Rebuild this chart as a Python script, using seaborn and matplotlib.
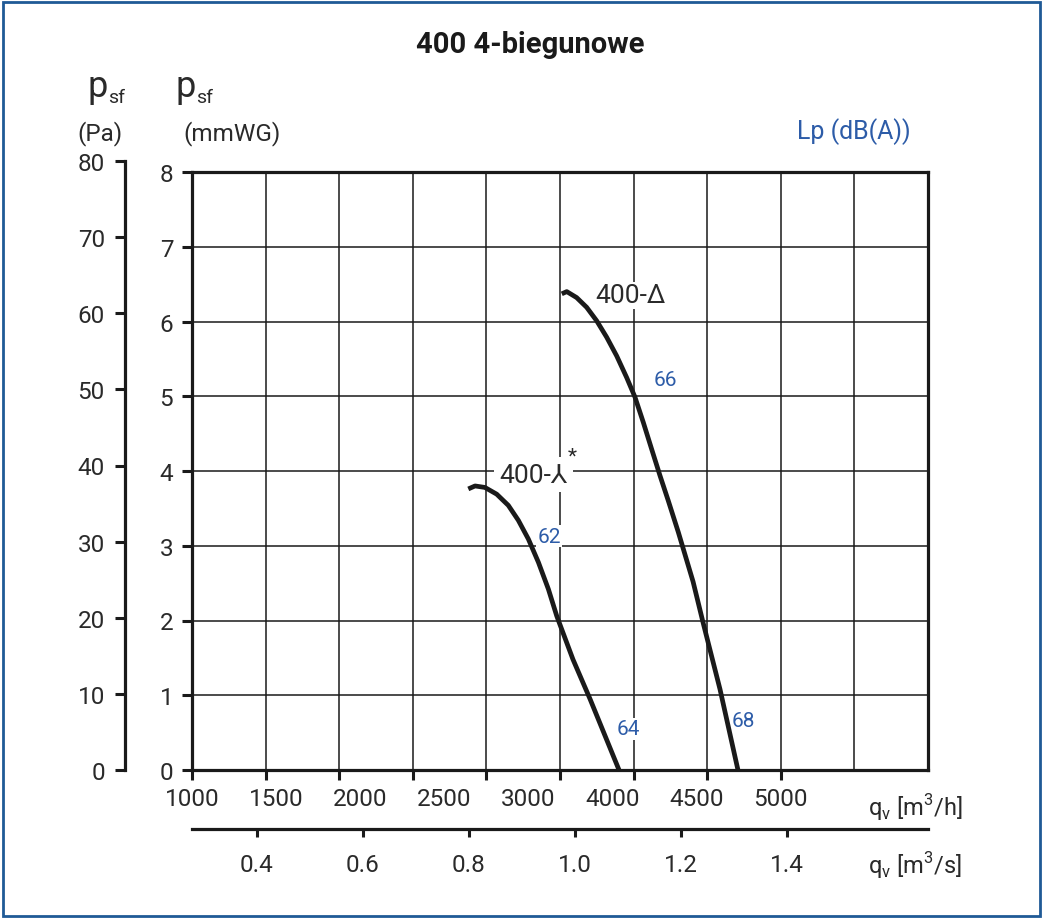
import numpy as np
import pandas as pd
import matplotlib
matplotlib.use('Agg')
import matplotlib.pyplot as plt
from matplotlib.patches import Rectangle
import seaborn as sns

# Curve data (q in m3/h, p in mmWG)
delta_q = [3512, 3546, 3613, 3681, 3749, 3817, 3885, 3953, 4009, 4066, 4123, 4179,
           4236, 4304, 4404, 4471, 4587, 4709]
delta_p = [6.37, 6.40, 6.32, 6.19, 6.01, 5.79, 5.54, 5.25, 4.99, 4.65, 4.29, 3.94,
           3.60, 3.18, 2.52, 1.98, 1.08, 0.0]
star_q = [2877, 2923, 2990, 3070, 3149, 3217, 3285, 3353, 3421, 3478, 3588, 3704, 3901]
star_p = [3.76, 3.80, 3.78, 3.69, 3.54, 3.34, 3.09, 2.78, 2.42, 2.06, 1.48, 0.95, 0.0]

# Lp (dB(A)) labels and where they sit
lp_labels = ['66', '62', '64', '68']
lp_q = [4213, 3425, 3962, 4743]
lp_p = [5.23, 3.13, 0.55, 0.66]

# tick labels
qh_labels = ['1000', '1500', '2000', '2500', '3000', '4000', '4500', '5000']
qs_ticks = [0.4, 0.6, 0.8, 1.0, 1.2, 1.4]
mm_ticks = [0, 1, 2, 3, 4, 5, 6, 7, 8]
pa_ticks = [0, 10, 20, 30, 40, 50, 60, 70, 80]

sns.set_style('white')
plt.rcParams['font.family'] = ['Roboto', 'DejaVu Sans']

W, H = 1045, 920
BLACK = '#1a1a1a'
BLUE = '#2d5ca8'
TXT = '#2a2a2a'


def fx(px):
    return px / W


def fy(py):
    return 1 - py / H


fig = plt.figure(figsize=(W / 100, H / 100), dpi=100)

# main chart
ax = fig.add_axes([fx(192), fy(771), fx(928) - fx(192), fy(173) - fy(771)])
ax.set_xlim(1000, 6000)
ax.set_ylim(0, 8)

df = pd.concat([
    pd.DataFrame({'q': delta_q, 'p': delta_p, 'curve': 'delta'}),
    pd.DataFrame({'q': star_q, 'p': star_p, 'curve': 'star'}),
])
for name, g in df.groupby('curve'):
    sns.lineplot(data=g, x='q', y='p', sort=False, estimator=None, ax=ax,
                 color=BLACK, lw=3.4, solid_capstyle='butt', zorder=4)
ax.set_xlabel('')
ax.set_ylabel('')

ax.xaxis.remove_overlapping_locs = False
ax.set_xticks(np.arange(1000, 5501, 500))
ax.set_xticklabels([])
ax.set_xticks(np.linspace(1000, 5000, len(qh_labels)), qh_labels, minor=True)
ax.set_yticks(mm_ticks)
ax.grid(True, which='major', color=BLACK, lw=1.1)
ax.set_axisbelow(True)
ax.tick_params(axis='x', which='major', length=7, width=2.2, color=BLACK, direction='out', bottom=True)
ax.tick_params(axis='x', which='minor', length=0, pad=12, labelsize=17.5, labelcolor=TXT)
ax.tick_params(axis='y', length=7.5, width=2.2, color=BLACK, direction='out', left=True,
               pad=6, labelsize=17.5, labelcolor=TXT)
ax.xaxis.get_major_ticks()[-1].tick1line.set_visible(False)
for s in ax.spines.values():
    s.set_visible(True)
    s.set_color(BLACK)
    s.set_linewidth(2.3)

# curve names
ax.text(3976, 6.35, '400-Δ', ha='center', va='center', fontsize=19, color=TXT,
        family=['Roboto', 'DejaVu Sans'],
        bbox=dict(facecolor='white', edgecolor='none', pad=1), zorder=3)
ax.text(3317, 3.95, '400-⅄', ha='center', va='center', fontsize=19, color=TXT,
        family=['Roboto', 'DejaVu Sans'],
        bbox=dict(facecolor='white', edgecolor='none', pad=4), zorder=3)
ax.text(3585, 4.2, '*', ha='center', va='center', fontsize=15, color=TXT,
        bbox=dict(facecolor='white', edgecolor='none', pad=2), zorder=3)

for lab, q, p in zip(lp_labels, lp_q, lp_p):
    ax.text(q, p, lab, ha='center', va='center', fontsize=15, color=BLUE,
            bbox=dict(facecolor='white', edgecolor='none', pad=1), zorder=3)

# Pa axis
ax_pa = fig.add_axes([fx(125), fy(771), 0.001, fy(162) - fy(771)])
ax_pa.set_ylim(0, 80)
ax_pa.set_yticks(pa_ticks)
ax_pa.set_xticks([])
for k in ['top', 'right', 'bottom']:
    ax_pa.spines[k].set_visible(False)
ax_pa.spines['left'].set_color(BLACK)
ax_pa.spines['left'].set_linewidth(2.3)
ax_pa.patch.set_visible(False)
ax_pa.tick_params(axis='y', length=7.5, width=2.2, color=BLACK, direction='out', left=True,
                  pad=7, labelsize=17.5, labelcolor=TXT)

# m3/s axis
ax_s = fig.add_axes([fx(192), fy(830), fx(928) - fx(192), 0.001])
ax_s.set_xlim(1000 / 3600, 6000 / 3600)
ax_s.set_xticks(qs_ticks, [f'{v:.1f}' for v in qs_ticks])
ax_s.set_yticks([])
for k in ['top', 'right', 'left']:
    ax_s.spines[k].set_visible(False)
ax_s.spines['bottom'].set_color(BLACK)
ax_s.spines['bottom'].set_linewidth(2.3)
ax_s.patch.set_visible(False)
ax_s.tick_params(axis='x', length=6, width=2.2, color=BLACK, direction='out', bottom=True,
                 pad=11, labelsize=17.5, labelcolor=TXT)

# figure texts
fig.text(fx(530), fy(45), '400 4-biegunowe', ha='center', va='center', fontsize=21,
         fontweight='bold', color=BLACK)
for x0 in (87, 175):
    fig.text(fx(x0), fy(97), 'p', ha='left', va='baseline', fontsize=26, color=TXT)
    fig.text(fx(x0 + 21), fy(103), 'sf', ha='left', va='baseline', fontsize=14, color=TXT)
fig.text(fx(100), fy(134), '(Pa)', ha='center', va='center', fontsize=17.5, color=TXT)
fig.text(fx(232), fy(134), '(mmWG)', ha='center', va='center', fontsize=17.5, color=TXT)
fig.text(fx(854), fy(132), 'Lp (dB(A))', ha='center', va='center', fontsize=18, color=BLUE)
fig.text(fx(868), fy(808), r'q$_\mathregular{v}$ [m$^\mathregular{3}$/h]', ha='left', va='center',
         fontsize=17, color=TXT)
fig.text(fx(868), fy(866), r'q$_\mathregular{v}$ [m$^\mathregular{3}$/s]', ha='left', va='center',
         fontsize=17, color=TXT)

# outer frame
fig.patches.append(Rectangle((fx(3), fy(917)), fx(1040) - fx(3), fy(3) - fy(917),
                             transform=fig.transFigure, fill=False,
                             edgecolor='#1f5a96', lw=2))

fig.savefig('out.png', dpi=100)
